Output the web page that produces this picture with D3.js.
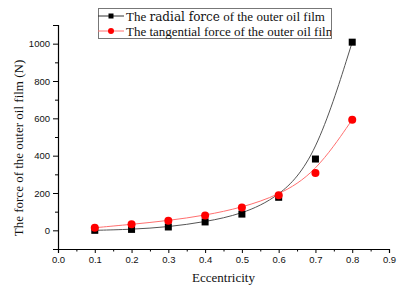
<!DOCTYPE html>
<html>
<head>
<meta charset="utf-8">
<script src="https://cdn.jsdelivr.net/npm/d3@7"></script>
<style>
  body { margin: 0; background: #fff; }
  .serif { font-family: 'Liberation Serif', 'Times New Roman', Times, serif; }
</style>
</head>
<body>
<script>
const w = 399;
const h = 288;

// data
const eccentricity = [0.1, 0.2, 0.3, 0.4, 0.5, 0.6, 0.7, 0.8];
const radialForce = [0, 5, 18, 45, 87, 177, 382, 1008];
const tangentialForce = [14, 32, 52, 80, 122, 188, 307, 593];
const xTicks = [0, 0.1, 0.2, 0.3, 0.4, 0.5, 0.6, 0.7, 0.8, 0.9];
const xMinorTicks = [0.05, 0.15, 0.25, 0.35, 0.45, 0.55, 0.65, 0.75, 0.85];
const yTicks = [0, 200, 400, 600, 800, 1000];
const yMinorTicks = [100, 300, 500, 700, 900];

const svg = d3.select('body')
  .append('svg')
  .attr('width', w)
  .attr('height', h);

const x = d3.scaleLinear().domain([0, 0.9]).range([58, 389]);
const y = d3.scaleLinear().domain([-100, 1100]).range([249, 25]);

const radial = eccentricity.map((e, i) => ({ e: e, v: radialForce[i] }));
const tangential = eccentricity.map((e, i) => ({ e: e, v: tangentialForce[i] }));

// axes, Origin style: only left and bottom
svg.append('g')
  .attr('transform', `translate(0,${y(-100)})`)
  .call(d3.axisBottom(x).tickValues(xTicks).tickFormat(d3.format('.1f')).tickSize(4).tickPadding(3));
svg.append('g')
  .attr('transform', `translate(0,${y(-100)})`)
  .call(d3.axisBottom(x).tickValues(xMinorTicks).tickFormat('').tickSize(2.5))
  .select('.domain').remove();

svg.append('g')
  .attr('transform', `translate(${x(0)},0)`)
  .call(d3.axisLeft(y).tickValues(yTicks).tickFormat(d3.format('d')).tickSize(5).tickPadding(3));
svg.append('g')
  .attr('transform', `translate(${x(0)},0)`)
  .call(d3.axisLeft(y).tickValues(yMinorTicks).tickFormat('').tickSize(3))
  .select('.domain').remove();

svg.selectAll('.domain').attr('stroke', '#000').attr('stroke-width', 1.2);
svg.selectAll('.tick line').attr('stroke', '#000').attr('stroke-width', 1);
svg.selectAll('.tick text')
  .attr('font-family', 'Liberation Sans, Arial, sans-serif')
  .attr('font-size', 9.5)
  .attr('fill', '#111');

// axis titles
svg.append('text')
  .attr('class', 'serif')
  .attr('x', (x(0) + x(0.9)) / 2)
  .attr('y', 282)
  .attr('text-anchor', 'middle')
  .attr('font-size', 13)
  .attr('fill', '#111')
  .text('Eccentricity');

svg.append('text')
  .attr('class', 'serif')
  .attr('transform', 'translate(23,148) rotate(-90)')
  .attr('text-anchor', 'middle')
  .attr('font-size', 13)
  .attr('fill', '#111')
  .text('The force of the outer oil film (N)');

// smooth curves
const line = d3.line()
  .x(d => x(d.e))
  .y(d => y(d.v))
  .curve(d3.curveBasis);

svg.append('path')
  .datum(radial)
  .attr('d', line)
  .attr('fill', 'none')
  .attr('stroke', '#555')
  .attr('stroke-width', 1);

svg.append('path')
  .datum(tangential)
  .attr('d', line)
  .attr('fill', 'none')
  .attr('stroke', '#ff7070')
  .attr('stroke-width', 1);

svg.selectAll('rect.pt')
  .data(radial)
  .enter()
  .append('rect')
  .attr('class', 'pt')
  .attr('x', d => x(d.e) - 3.5)
  .attr('y', d => y(d.v) - 3.5)
  .attr('width', 7)
  .attr('height', 7)
  .attr('fill', '#000');

svg.selectAll('circle.pt')
  .data(tangential)
  .enter()
  .append('circle')
  .attr('class', 'pt')
  .attr('cx', d => x(d.e))
  .attr('cy', d => y(d.v))
  .attr('r', 4)
  .attr('fill', '#ff0000');

// legend
svg.append('clipPath')
  .attr('id', 'legclip')
  .append('rect')
  .attr('x', 98).attr('y', 8).attr('width', 233).attr('height', 31);

const legend = svg.append('g');

legend.append('rect')
  .attr('x', 98.5).attr('y', 8.5)
  .attr('width', 233).attr('height', 30)
  .attr('fill', '#fff')
  .attr('stroke', '#777')
  .attr('stroke-width', 1);

const legRows = [
  { y: 16, color: '#333', text: ['The ', 'radial force', ' of the outer oil film'], shape: 'square' },
  { y: 31, color: '#ff7070', text: ['The ', 'tangential', ' force of the outer oil film'], shape: 'circle' }
];

legRows.forEach(r => {
  legend.append('line')
    .attr('x1', 98).attr('x2', 124)
    .attr('y1', r.y).attr('y2', r.y)
    .attr('stroke', r.color)
    .attr('stroke-width', 1);
  if (r.shape === 'square') {
    legend.append('rect')
      .attr('x', 108.5).attr('y', r.y - 2.5)
      .attr('width', 5).attr('height', 5)
      .attr('fill', '#000');
  } else {
    legend.append('circle')
      .attr('cx', 111).attr('cy', r.y)
      .attr('r', 3)
      .attr('fill', '#ff0000');
  }
  const t = legend.append('text')
    .attr('class', 'serif')
    .attr('x', 126)
    .attr('y', r.y + 4.5)
    .attr('clip-path', 'url(#legclip)')
    .attr('font-size', 13)
    .attr('fill', '#111');
  t.append('tspan').text(r.text[0]);
  const mid = t.append('tspan').text(r.text[1]);
  if (r.shape === 'square') {
    mid.attr('font-family', 'DejaVu Serif, serif').attr('font-size', 12);
  }
  t.append('tspan').text(r.text[2]);
});
</script>
</body>
</html>
